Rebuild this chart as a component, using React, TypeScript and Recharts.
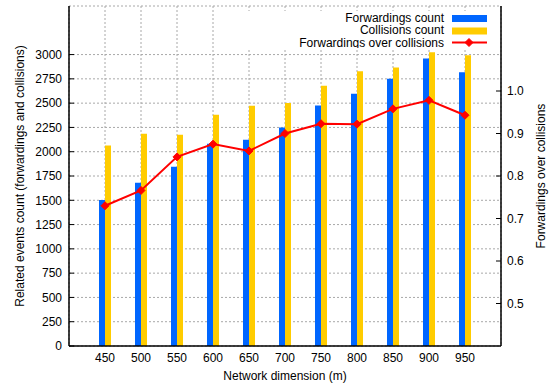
import React from 'react';
import { ComposedChart, Bar, Line, XAxis, YAxis, CartesianGrid } from 'recharts';

// Network dimension (m) on the x axis
const dimensions = [450, 500, 550, 600, 650, 700, 750, 800, 850, 900, 950];
// event counts (left axis)
const forwardings = [1502, 1680, 1846, 2081, 2122, 2249, 2476, 2597, 2752, 2959, 2817];
const collisions = [2063, 2184, 2174, 2380, 2473, 2501, 2680, 2828, 2866, 3024, 2993];
// forwardings / collisions (right axis)
const ratio = [0.73, 0.766, 0.845, 0.875, 0.859, 0.9, 0.923, 0.922, 0.958, 0.978, 0.943];

const countTicks = [0, 250, 500, 750, 1000, 1250, 1500, 1750, 2000, 2250, 2500, 2750, 3000];
const ratioTicks = [0.5, 0.6, 0.7, 0.8, 0.9, 1.0];

const legendLabels = ['Forwardings count', 'Collisions count', 'Forwardings over collisions'];

const BLUE = '#0066ff';
const YELLOW = '#ffcc00';
const RED = '#ff0000';
const FONT = '"Liberation Sans", Arial, sans-serif';

const data = dimensions.map((d, i) => ({
  dim: d,
  forwardings: forwardings[i],
  collisions: collisions[i],
  ratio: ratio[i],
}));

const tickStyle = { fill: '#000', fontSize: 12, fontFamily: FONT };

function Diamond(props: any) {
  const { cx, cy } = props;
  if (cx == null || cy == null) return null;
  const r = 4;
  return (
    <polygon
      points={`${cx},${cy - r} ${cx + r},${cy} ${cx},${cy + r} ${cx - r},${cy}`}
      fill={RED}
      stroke={RED}
      strokeWidth={1}
    />
  );
}

function KeyBox() {
  // opaque key in the top right corner, like gnuplot's "set key opaque"
  return (
    <div style={{ position: 'absolute', left: 232, top: 11, width: 268, height: 37, background: '#fff' }}>
      <svg width={268} height={37}>
        <text x={212} y={10.5} textAnchor="end" style={{ fontSize: 12, fontFamily: FONT }}>{legendLabels[0]}</text>
        <rect x={220} y={4} width={35} height={7} fill={BLUE} />
        <text x={212} y={23} textAnchor="end" style={{ fontSize: 12, fontFamily: FONT }}>{legendLabels[1]}</text>
        <rect x={220} y={16.5} width={35} height={7} fill={YELLOW} />
        <text x={212} y={35.5} textAnchor="end" style={{ fontSize: 12, fontFamily: FONT }}>{legendLabels[2]}</text>
        <line x1={220} x2={255} y1={31.5} y2={31.5} stroke={RED} strokeWidth={2} />
        <Diamond cx={237} cy={31.5} />
      </svg>
    </div>
  );
}

export default function App() {
  return (
    <div style={{ position: 'absolute', left: 0, top: 0, width: 557, height: 383, background: '#fff' }}>
      <ComposedChart
        width={557}
        height={383}
        data={data}
        margin={{ top: 6, right: 0, bottom: 0, left: 0 }}
        barGap={0}
      >
        <CartesianGrid stroke="#a8a8a8" strokeDasharray="2 2" />
        <XAxis
          dataKey="dim"
          height={37}
          padding={{ left: 18, right: 18 }}
          tickLine={false}
          tickSize={-5}
          tickMargin={12}
          tick={tickStyle}
          axisLine={{ stroke: '#000', strokeWidth: 1.5 }}
          label={() => (
            <text x={285} y={380} textAnchor="middle" style={{ fontSize: 12, fontFamily: FONT }}>
              Network dimension (m)
            </text>
          )}
        />
        <XAxis
          xAxisId="top"
          orientation="top"
          dataKey="dim"
          height={0}
          padding={{ left: 18, right: 18 }}
          tick={false}
          tickSize={-5}
          tickLine={{ stroke: '#000' }}
          axisLine={{ stroke: '#000', strokeWidth: 1.5 }}
        />
        <YAxis
          width={69}
          domain={[0, 3500]}
          ticks={countTicks}
          tickSize={-5}
          tickMargin={12}
          tick={tickStyle}
          tickLine={{ stroke: '#000' }}
          axisLine={{ stroke: '#000', strokeWidth: 1.5 }}
          label={() => (
            <text x={24} y={176} transform="rotate(-90 24 176)" textAnchor="middle" style={{ fontSize: 12, fontFamily: FONT }}>
              Related events count (forwardings and collisions)
            </text>
          )}
        />
        <YAxis
          yAxisId="right"
          orientation="right"
          width={56}
          domain={[0.4, 1.2]}
          ticks={ratioTicks}
          tickFormatter={(v: number) => v.toFixed(1)}
          tickSize={-5}
          tickMargin={11}
          tick={tickStyle}
          tickLine={{ stroke: '#000' }}
          axisLine={{ stroke: '#000', strokeWidth: 1.5 }}
          label={() => (
            <text x={545} y={176} transform="rotate(-90 545 176)" textAnchor="middle" style={{ fontSize: 12, fontFamily: FONT }}>
              Forwardings over collisions
            </text>
          )}
        />
        <Bar dataKey="forwardings" fill={BLUE} barSize={6} isAnimationActive={false} />
        <Bar dataKey="collisions" fill={YELLOW} barSize={6} isAnimationActive={false} />
        <Line
          yAxisId="right"
          dataKey="ratio"
          stroke={RED}
          strokeWidth={2}
          dot={<Diamond />}
          activeDot={false}
          isAnimationActive={false}
        />
      </ComposedChart>
      <KeyBox />
    </div>
  );
}
